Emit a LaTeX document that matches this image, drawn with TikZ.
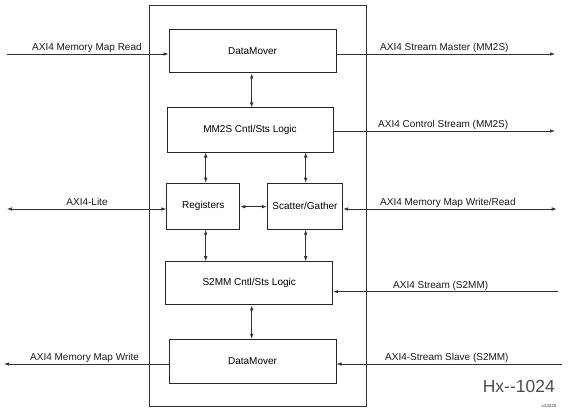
\documentclass[tikz,border=0pt]{standalone}
\usepackage{fontspec}
\setmainfont{Liberation Sans}
\usetikzlibrary{arrows.meta}
\tikzset{
  blk/.style={draw=black!85, line width=1pt, minimum width=#1, inner sep=0pt, font=\fontsize{10}{12}\selectfont},
  conn/.style={draw=black!80, line width=0.7pt},
  tip/.style={-{Latex[length=5pt,width=3.6pt]}},
  dtip/.style={{Latex[length=5pt,width=3.6pt]}-{Latex[length=5pt,width=3.6pt]}},
  lbl/.style={anchor=base west, inner sep=0pt, font=\fontsize{10}{12}\selectfont, text=black!90},
}
\begin{document}
\begin{tikzpicture}[x=1pt,y=-1pt]
\useasboundingbox (0,0) rectangle (572,417);
% outer box
\draw[draw=black!80, line width=1pt] (149.5,5.5) rectangle (366.7,406.7);
% blocks
\node[blk=167pt, minimum height=43pt] (dm1) at (252.5,51.5) {DataMover};
\node[blk=166pt, minimum height=44pt] (mm2s) at (250,130) {MM2S Cntl/Sts Logic};
\node[blk=73pt, minimum height=46pt] (reg) at (203.3,206.2) {Registers};
\node[blk=75.4pt, minimum height=46pt] (sg) at (305,206.2) {Scatter/Gather};
\node[blk=167pt, minimum height=43.3pt] (s2mm) at (249.2,283.3) {S2MM Cntl/Sts Logic};
\node[blk=167pt, minimum height=44pt] (dm2) at (252.5,361.3) {DataMover};
% internal connectors
\coordinate (cx) at (251.7,0);
\coordinate (rx) at (205.7,0);
\coordinate (sx) at (305.7,0);
\draw[conn,dtip] (dm1.south -| cx) -- (mm2s.north -| cx);
\draw[conn,dtip] (mm2s.south -| rx) -- (reg.north -| rx);
\draw[conn,dtip] (mm2s.south -| sx) -- (sg.north -| sx);
\draw[conn,dtip] (reg.south -| rx) -- (s2mm.north -| rx);
\draw[conn,dtip] (sg.south -| sx) -- (s2mm.north -| sx);
\draw[conn,dtip] (reg.east |- 0,206.7) -- (sg.west |- 0,206.7);
\draw[conn,dtip] (s2mm.south -| cx) -- (dm2.north -| cx);
% external connectors
\coordinate (inread) at (7,54);
\coordinate (outmaster) at (555,54);
\coordinate (outctrl) at (555,131);
\coordinate (lite) at (7,209);
\coordinate (mmwr) at (556.7,209);
\coordinate (ins2mm) at (558,291.7);
\coordinate (outwrite) at (4,364);
\coordinate (inslave) at (561.7,364);
\draw[conn,tip] (inread) -- (inread -| dm1.west);
\draw[conn,tip] (outmaster -| dm1.east) -- (outmaster);
\draw[conn,tip] (outctrl -| mm2s.east) -- (outctrl);
\draw[conn,dtip] (lite) -- (lite -| reg.west);
\draw[conn,dtip] (mmwr -| sg.east) -- (mmwr);
\draw[conn,tip] (ins2mm) -- (ins2mm -| s2mm.east);
\draw[conn,tip] (outwrite -| dm2.west) -- (outwrite);
\draw[conn,tip] (inslave) -- (inslave -| dm2.east);
% labels
\node[lbl] (t1) at (32,50.5) {AXI4 Memory Map Read};
\node[lbl] (t2) at (380,50.5) {AXI4 Stream Master (MM2S)};
\node[lbl] (t3) at (378,127.5) {AXI4 Control Stream (MM2S)};
\node[lbl, anchor=base] (t4) at (87,205.5) {AXI4-Lite};
\node[lbl] (t5) at (380,205.5) {AXI4 Memory Map Write/Read};
\node[lbl] (t6) at (393,288.2) {AXI4 Stream (S2MM)};
\node[lbl] (t7) at (30,360.5) {AXI4 Memory Map Write};
\node[lbl] (t8) at (385,360.5) {AXI4-Stream Slave (S2MM)};
\node[anchor=base east, inner sep=0pt, font=\fontsize{17.5}{20}\selectfont, text=black!70] (hx) at (555,392) {Hx-{}-1024};
\node[anchor=base, inner sep=0pt, font=\fontsize{4.5}{5}\selectfont, text=black!80] (xid) at (549,407) {x13225};
\end{tikzpicture}
\end{document}
